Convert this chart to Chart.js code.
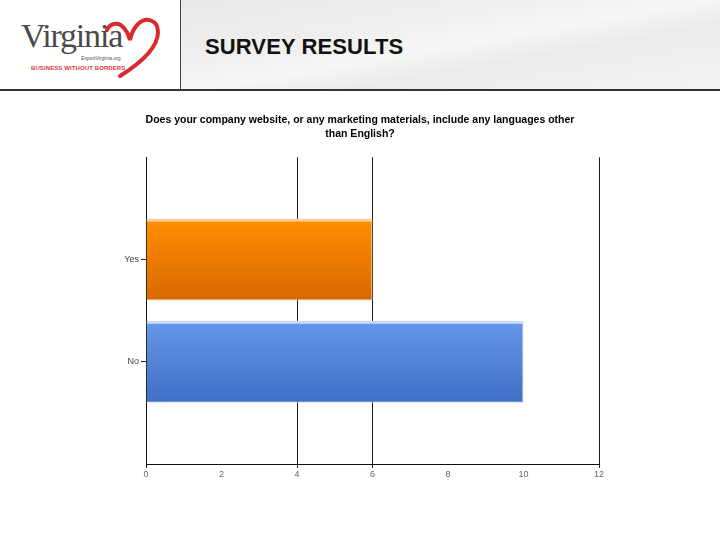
<!DOCTYPE html>
<html>
<head>
<meta charset="utf-8">
<script src="https://cdn.jsdelivr.net/npm/chart.js@4.4.1/dist/chart.umd.min.js"></script>
<style>
  html, body { margin: 0; padding: 0; background: #fff; }
  body { width: 720px; height: 540px; position: relative; overflow: hidden; font-family: "Liberation Sans", Arial, sans-serif; }
  #header { position: absolute; left: 0; top: 0; width: 720px; height: 89px; }
  #logoArea { position: absolute; left: 0; top: 0; width: 180px; height: 89px; background: #fff; border-right: 1px solid #444; }
  #band { position: absolute; left: 181px; top: 0; width: 539px; height: 89px;
    background: linear-gradient(170deg, #e8e8e8 0%, #efefef 35%, #f6f6f6 50%, #ebebeb 65%, #f3f3f3 100%); }
  #rule { position: absolute; left: 0; top: 89px; width: 720px; height: 2px; background: #333; }
  #survey { position: absolute; left: 205px; top: 34px; font: bold 22px "Liberation Sans", Arial, sans-serif; color: #111; letter-spacing: 0.1px; }
  #virginia { position: absolute; left: 21px; top: 17px; font: 34px "Liberation Serif", "DejaVu Serif", serif; color: #4a4a4a; letter-spacing: -1.2px; }
  #export { position: absolute; left: 81px; top: 55px; font: 5px "Liberation Sans", Arial, sans-serif; color: #555; }
  #bwb { position: absolute; left: 31px; top: 65px; font: bold 6px "Liberation Sans", Arial, sans-serif; color: #d8383a; letter-spacing: 0.1px; }
  #heart { position: absolute; left: 100px; top: 14px; }
  canvas { position: absolute; left: 0; top: 0; }
</style>
</head>
<body>
<div id="header">
  <div id="logoArea">
    <svg id="heart" width="64" height="66" viewBox="0 0 64 66">
      <path d="M20 62 C 36 52, 58 36, 58 18 C 58 6, 46 2, 38 10 C 32 16, 31 22, 30 26 C 28 18, 22 8, 14 10 C 10 11, 8 13, 7 16"
            fill="none" stroke="#d92b2b" stroke-width="4" stroke-linecap="round"/>
    </svg>
    <div id="virginia">Virginia</div>
    <div id="export">ExportVirginia.org</div>
    <div id="bwb">BUSINESS WITHOUT BORDERS</div>
  </div>
  <div id="band"></div>
  <div id="survey">SURVEY RESULTS</div>
</div>
<div id="rule"></div>
<canvas id="c" width="720" height="540"></canvas>
<script>
// ---- data ----
const categories = ['Yes', 'No'];
const responses = [6, 10];
const xTickValues = [0, 2, 4, 6, 8, 10, 12];
const titleLines = ['Does your company website, or any marketing materials, include any languages other', 'than English?'];
const hiddenGridValues = [2, 8, 10];

// ---- styles ----
const barTop = ['#ff8f00', '#6797e8'];
const barBottom = ['#d96800', '#4070c6'];
const barEdge = ['#f8cf9e', '#cbdbf1'];

function barFill(ctx) {
  const chart = ctx.chart;
  const i = ctx.dataIndex;
  const ys = chart.scales && chart.scales.y;
  if (!ys) return barTop[i];
  const center = ys.getPixelForValue(i);
  const half = Math.abs(ys.getPixelForValue(1) - ys.getPixelForValue(0)) * 0.4;
  if (!isFinite(center) || !isFinite(half) || half <= 0) return barTop[i];
  const g = chart.ctx.createLinearGradient(0, center - half, 0, center + half);
  g.addColorStop(0, barTop[i]);
  g.addColorStop(1, barBottom[i]);
  return g;
}

new Chart(document.getElementById('c'), {
  type: 'bar',
  data: {
    labels: categories,
    datasets: [{
      data: responses,
      backgroundColor: barFill,
      borderColor: ctx => barEdge[ctx.dataIndex],
      borderWidth: { top: 3, right: 1, bottom: 1, left: 0 },
      borderSkipped: false,
      categoryPercentage: 0.8,
      barPercentage: 1.0
    }]
  },
  options: {
    indexAxis: 'y',
    responsive: false,
    animation: false,
    devicePixelRatio: 1,
    layout: { padding: { left: 121, right: 121, top: 114, bottom: 56 } },
    plugins: {
      legend: { display: false },
      tooltip: { enabled: false },
      title: {
        display: true,
        text: titleLines,
        color: '#000',
        font: { family: '"Liberation Sans", Arial, sans-serif', size: 10.5, weight: 'bold', lineHeight: 1.25 },
        padding: { top: 0, bottom: 17 }
      }
    },
    scales: {
      x: {
        type: 'linear',
        min: 0,
        max: 12,
        afterBuildTicks: s => { s.ticks = xTickValues.map(v => ({ value: v })); },
        afterFit: s => { s.height = 20; },
        grid: {
          color: ctx => (ctx.tick && hiddenGridValues.includes(ctx.tick.value)) ? 'rgba(0,0,0,0)' : '#1a1a1a',
          lineWidth: 1,
          tickLength: 4
        },
        border: { display: true, color: '#111', width: 1 },
        ticks: {
          color: '#666',
          padding: 1,
          font: { family: '"Liberation Sans", Arial, sans-serif', size: 9 }
        }
      },
      y: {
        type: 'category',
        offset: false,
        afterBuildTicks: s => { s._startValue = -1; s._valueRange = categories.length + 1; },
        afterFit: s => { s.width = 25; },
        grid: { drawOnChartArea: false, offset: false, color: '#222', tickLength: 5 },
        border: { display: true, color: '#111', width: 1 },
        ticks: {
          color: '#444',
          padding: 2,
          font: { family: '"Liberation Sans", Arial, sans-serif', size: 9 }
        }
      }
    }
  }
});
</script>
</body>
</html>
